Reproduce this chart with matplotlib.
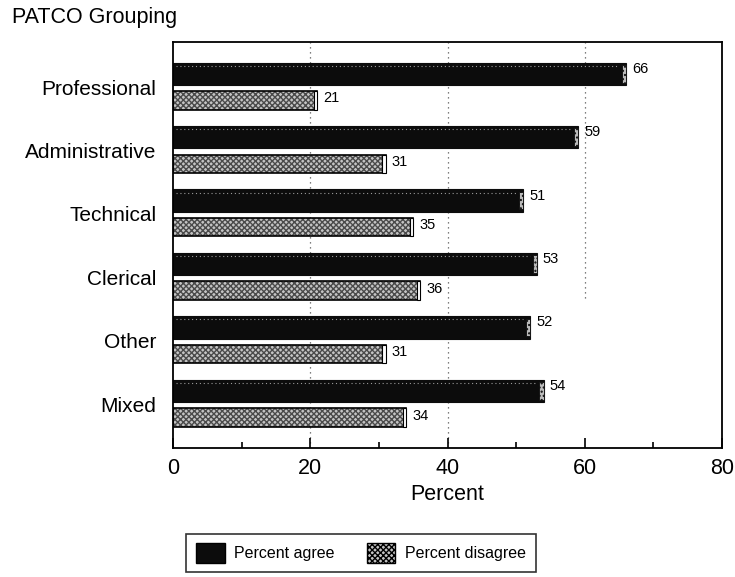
import matplotlib
matplotlib.use("Agg")
import matplotlib.pyplot as plt
from matplotlib.patches import Patch
from matplotlib.ticker import MultipleLocator
import numpy as np

categories = ["Professional", "Administrative", "Technical", "Clerical", "Other", "Mixed"]
agree = [66, 59, 51, 53, 52, 54]
disagree = [21, 31, 35, 36, 31, 34]
series_labels = ["Percent agree", "Percent disagree"]
xticks = [0, 20, 40, 60, 80]

plt.rcParams['font.family'] = ['Liberation Sans', 'DejaVu Sans']

fig = plt.figure(figsize=(7.35, 5.77), dpi=100)
ax = fig.add_axes([173/735, 1-448/577, (722-173)/735, (448-42)/577])

y = np.arange(len(categories))
off = 0.21
h_a = 0.35
h_d = 0.29

# gridlines
for gx in [20, 40]:
    ax.axvline(gx, color='#555555', linestyle=(0, (1, 3)), linewidth=0.9, zorder=0)
ax.axvline(60, ymin=0.37, ymax=1, color='#555555', linestyle=(0, (1, 3)), linewidth=0.9, zorder=0)

# agree bars
ax.barh(y - off, agree, height=h_a, color='#0c0c0c', edgecolor='#0c0c0c', linewidth=0.8, zorder=2)
ax.hlines(y - off - h_a * 0.36, 0.4, np.array(agree) - 1.0, colors='#9a9a9a',
          linestyles=(0, (1, 2.5)), linewidth=0.8, zorder=3)
# disagree bars: hatch layer + outline
ax.barh(y + off, disagree, height=h_d, color='#c4c4c4', edgecolor='#4a4a4a', hatch='xxxxxx', linewidth=0, zorder=2)
ax.barh(y + off, disagree, height=h_d, fill=False, edgecolor='black', linewidth=1.2, zorder=3)

# end caps
ax.barh(y - off, [0.6] * len(agree), left=np.array(agree) - 0.6, height=h_a * 0.8,
        color='#bbbbbb', edgecolor='#0c0c0c', hatch='....', linewidth=0.6, zorder=4)
ax.barh(y + off, [0.5] * len(disagree), left=np.array(disagree) - 0.5, height=h_d,
        color='white', edgecolor='black', linewidth=0.8, zorder=4)

for yi, v in zip(y, agree):
    ax.text(v + 0.9, yi - off - 0.08, str(v), fontsize=10.5, ha='left', va='center', zorder=5)
for yi, v in zip(y, disagree):
    ax.text(v + 0.9, yi + off - 0.03, str(v), fontsize=10.5, ha='left', va='center', zorder=5)

ax.set_xlim(0, 80)
ax.set_ylim(5.69, -0.71)
ax.set_yticks(y)
ax.set_yticklabels(categories, fontsize=15)
ax.tick_params(axis='y', length=0, pad=12)
ax.set_xticks(xticks)
ax.set_xticklabels([str(t) for t in xticks], fontsize=15.5)
ax.xaxis.set_minor_locator(MultipleLocator(10))
ax.tick_params(axis='x', which='major', direction='in', length=7, width=1.2, pad=7)
ax.tick_params(axis='x', which='minor', direction='in', length=4, width=1.2)
ax.set_xlabel("Percent", fontsize=15.5, labelpad=4)
for s in ax.spines.values():
    s.set_linewidth(1.3)

fig.text(12/735, 1-18/577, "PATCO Grouping", fontsize=15.5, ha='left', va='center')

handles = [Patch(facecolor='#0c0c0c', edgecolor='black', label=series_labels[0]),
           Patch(facecolor='#c4c4c4', edgecolor='black', hatch='xxxxxx', label=series_labels[1])]
leg = fig.legend(handles=handles, loc='center', bbox_to_anchor=(361/735, 1-553/577), ncol=2,
                 fontsize=11.5, frameon=True, fancybox=False, edgecolor='black',
                 handlelength=1.8, handleheight=1.5, handletextpad=0.6,
                 columnspacing=2.0, borderpad=0.6)
leg.get_frame().set_linewidth(1.2)

fig.savefig("out.png", dpi=100)
